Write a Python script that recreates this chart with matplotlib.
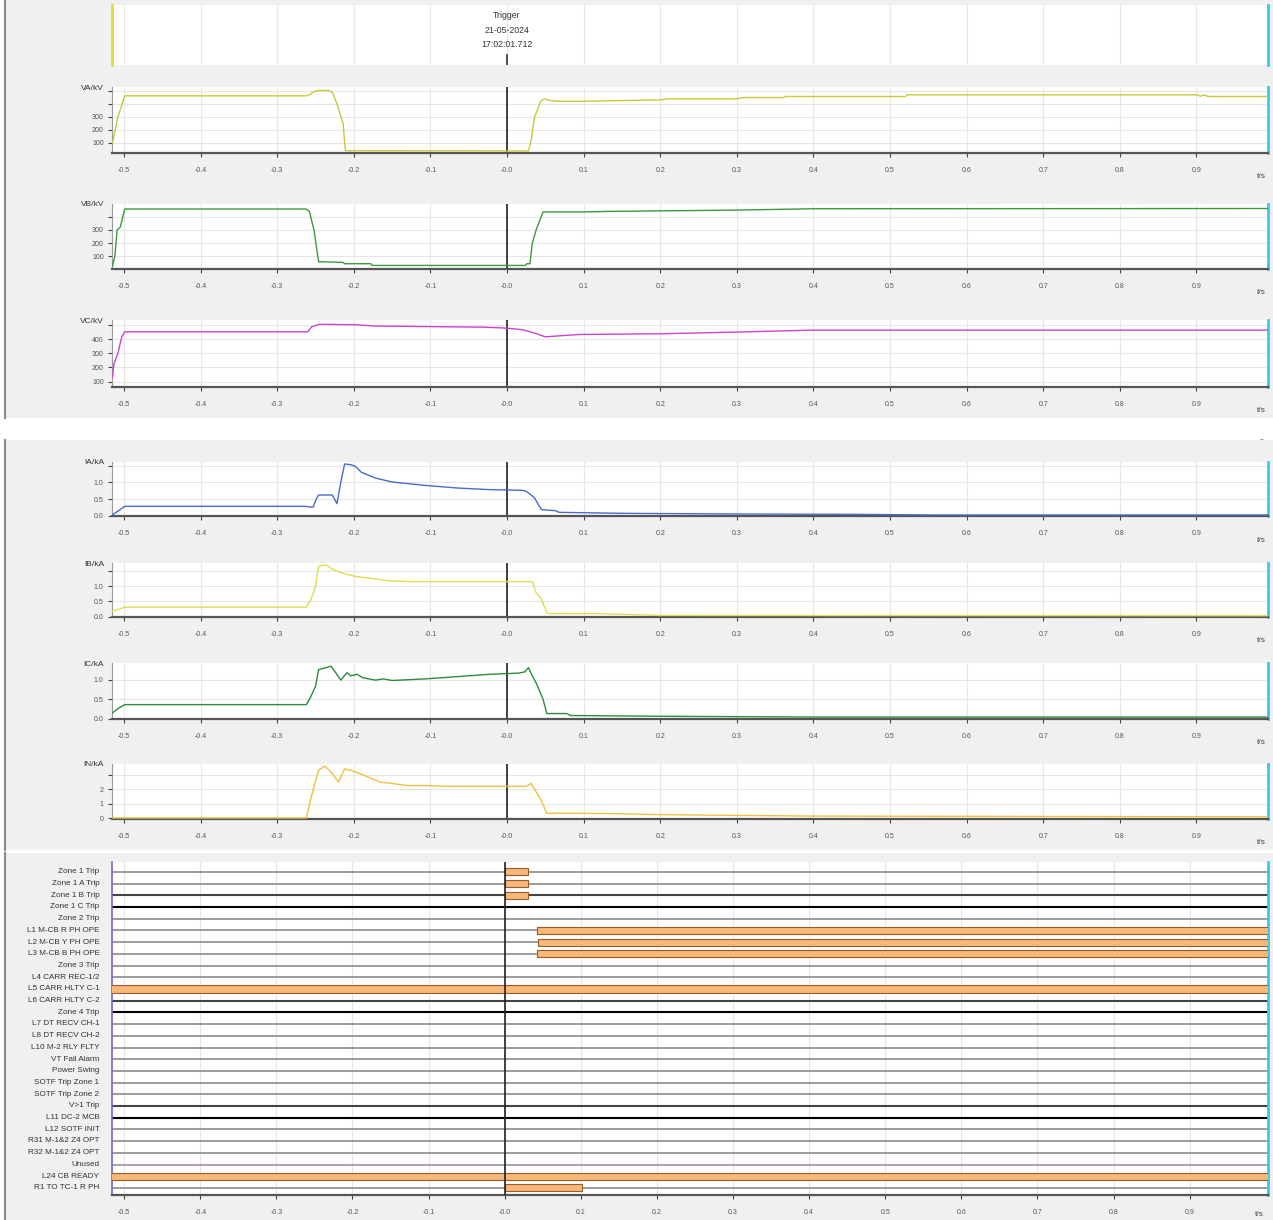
import numpy as np
import matplotlib
matplotlib.use('Agg')
import matplotlib.pyplot as plt
from matplotlib.patches import Rectangle
from matplotlib.lines import Line2D

plt.rcParams['font.family'] = ['Liberation Sans', 'DejaVu Sans']

W, H = 1273, 1220

# ---- analog channels (time in s) ----
va_t = [-0.515, -0.508, -0.499, -0.262, -0.258, -0.252, -0.245, -0.233, -0.228, -0.222, -0.214, -0.211,
        0.028, 0.031, 0.036, 0.044, 0.049, 0.053, 0.066, 0.1, 0.2, 0.21, 0.3, 0.31, 0.36, 0.365, 0.52,
        0.523, 0.9, 0.905, 0.91, 0.915, 0.92, 0.993]
va_v = [100, 300, 462, 462, 470, 495, 503, 503, 490, 400, 250, 40,
        38, 100, 300, 420, 440, 430, 420, 420, 431, 439, 439, 449, 449, 457, 457,
        470, 470, 460, 468, 458, 457, 457]

vb_t = [-0.515, -0.512, -0.509, -0.505, -0.499, -0.262, -0.258, -0.252, -0.246, -0.214, -0.212, -0.178,
        -0.176, 0.024, 0.026, 0.03, 0.033, 0.038, 0.047, 0.1, 0.13, 0.3, 0.4, 0.993]
vb_v = [30, 100, 300, 320, 458, 458, 440, 300, 60, 55, 45, 45,
        32, 32, 45, 45, 200, 300, 436, 436, 440, 450, 460, 462]

vc_t = [-0.515, -0.513, -0.508, -0.503, -0.499, -0.26, -0.255, -0.245, -0.2, -0.172, -0.03, 0.0, 0.02,
        0.036, 0.05, 0.07, 0.095, 0.2, 0.3, 0.4, 0.993]
vc_v = [133, 230, 300, 418, 454, 454, 490, 507, 505, 495, 487, 480, 469,
        445, 418, 426, 435, 440, 452, 466, 466]

ia_t = [-0.515, -0.507, -0.499, -0.262, -0.259, -0.253, -0.249, -0.246, -0.228, -0.222, -0.217, -0.212,
        -0.204, -0.198, -0.19, -0.172, -0.15, -0.108, -0.065, -0.022, 0.0, 0.02, 0.025, 0.031, 0.036,
        0.041, 0.045, 0.063, 0.068, 0.15, 0.3, 0.45, 0.56, 0.993]
ia_v = [0.03, 0.15, 0.28, 0.28, 0.26, 0.26, 0.5, 0.62, 0.62, 0.36, 1.0, 1.55,
        1.53, 1.48, 1.3, 1.13, 1.01, 0.91, 0.83, 0.78, 0.77, 0.76, 0.73, 0.63, 0.53,
        0.33, 0.18, 0.15, 0.1, 0.07, 0.05, 0.04, 0.02, 0.02]

ib_t = [-0.515, -0.507, -0.499, -0.262, -0.256, -0.25, -0.246, -0.236, -0.228, -0.215, -0.198, -0.182,
        -0.155, -0.129, 0.033, 0.038, 0.044, 0.052, 0.055, 0.12, 0.2, 0.993]
ib_v = [0.18, 0.24, 0.31, 0.31, 0.56, 1.0, 1.65, 1.7, 1.56, 1.43, 1.32, 1.27,
        1.18, 1.15, 1.15, 0.78, 0.62, 0.13, 0.1, 0.1, 0.04, 0.03]

ic_t = [-0.515, -0.507, -0.499, -0.262, -0.257, -0.25, -0.246, -0.236, -0.23, -0.225, -0.217, -0.209,
        -0.204, -0.196, -0.188, -0.172, -0.161, -0.15, -0.129, -0.108, -0.086, -0.065, -0.022, 0.015,
        0.023, 0.028, 0.033, 0.038, 0.047, 0.052, 0.078, 0.083, 0.2, 0.4, 0.993]
ic_v = [0.15, 0.27, 0.36, 0.36, 0.53, 0.83, 1.26, 1.31, 1.35, 1.22, 0.99, 1.18,
        1.1, 1.14, 1.05, 0.99, 1.02, 0.98, 1.0, 1.02, 1.05, 1.08, 1.14, 1.17,
        1.2, 1.31, 1.1, 0.92, 0.5, 0.13, 0.13, 0.08, 0.06, 0.04, 0.04]

in_t = [-0.515, -0.262, -0.257, -0.25, -0.246, -0.238, -0.23, -0.22, -0.212, -0.204, -0.193, -0.182,
        -0.166, -0.15, -0.129, -0.103, -0.076, 0.025, 0.031, 0.036, 0.044, 0.052, 0.13, 0.2, 0.4, 0.993]
in_v = [0.02, 0.02, 1.15, 2.6, 3.3, 3.6, 3.2, 2.5, 3.4, 3.3, 3.1, 2.85,
        2.5, 2.4, 2.25, 2.25, 2.2, 2.2, 2.4, 2.0, 1.3, 0.35, 0.33, 0.25, 0.15, 0.1]

x_ticks = [-0.5, -0.4, -0.3, -0.2, -0.1, 0.0, 0.1, 0.2, 0.3, 0.4, 0.5, 0.6, 0.7, 0.8, 0.9]
x_labels = ['-0.5', '-0.4', '-0.3', '-0.2', '-0.1', '-0.0', '0.1', '0.2', '0.3', '0.4',
            '0.5', '0.6', '0.7', '0.8', '0.9']

# ---- digital channels ----
dig_names = ['Zone 1 Trip', 'Zone 1 A Trip', 'Zone 1 B Trip', 'Zone 1 C Trip', 'Zone 2 Trip',
             'L1 M-CB R PH OPE', 'L2 M-CB Y PH OPE', 'L3 M-CB B PH OPE', 'Zone 3 Trip',
             'L4 CARR REC-1/2', 'L5 CARR HLTY C-1', 'L6 CARR HLTY C-2', 'Zone 4 Trip',
             'L7 DT RECV CH-1', 'L8 DT RECV CH-2', 'L10 M-2 RLY FLTY', 'VT Fail Alarm',
             'Power Swing', 'SOTF Trip Zone 1', 'SOTF Trip Zone 2', 'V>1 Trip', 'L11 DC-2 MCB',
             'L12 SOTF INIT', 'R31 M-1&2 Z4 OPT', 'R32 M-1&2 Z4 OPT', 'Unused', 'L24 CB READY',
             'R1 TO TC-1 R PH']
dig_line = ['g', 'g', 'd', 'k', 'g', 'g', 'g', 'g', 'g', 'g', 'g', 'd', 'k', 'g', 'g', 'g', 'g',
            'g', 'g', 'g', 'd', 'k', 'g', 'g', 'g', 'u', 'd', 'g']
bar_rows = [0, 1, 2, 5, 6, 7, 10, 26, 27]
bar_start = [0.0, 0.0, 0.0, 0.042, 0.044, 0.043, -0.52, -0.52, 0.0]
bar_end = [0.031, 0.031, 0.031, 1.01, 1.01, 1.01, 1.01, 1.01, 0.102]

fig = plt.figure(figsize=(W / 100, H / 100), dpi=100)
fig.patch.set_facecolor('white')


def box(l, t, r, b):
    return [l / W, 1 - b / H, (r - l) / W, (b - t) / H]


for top, bot in [(0, 418), (440, 850), (853, 1220)]:
    fig.add_artist(Rectangle((5 / W, 1 - bot / H), (W - 5) / W, (bot - top) / H,
                             transform=fig.transFigure, facecolor='#f0f0f0',
                             edgecolor='none', zorder=-10))
    fig.add_artist(Line2D([5 / W, 5 / W], [1 - bot / H, 1 - top / H],
                          transform=fig.transFigure, color='#8a8a8a', lw=1.5, zorder=-5))
fig.text(1262 / W, 1 - 440 / H, '--', fontsize=5, color='#666', ha='center', va='center')

XLIM = (-0.5157, 0.9935)


def style_axes(ax, xlim):
    ax.set_facecolor('white')
    ax.set_xlim(xlim)
    ax.set_xticks(x_ticks)
    ax.set_xticklabels(x_labels)
    ax.grid(True, color='#e6e6e6', lw=0.8)
    ax.set_axisbelow(True)
    ax.spines['top'].set_visible(False)
    ax.spines['right'].set_color('#3cc8e8')
    ax.spines['right'].set_linewidth(2)
    ax.spines['left'].set_color('#9a9a9a')
    ax.spines['left'].set_linewidth(0.8)
    ax.spines['bottom'].set_color('#555555')
    ax.spines['bottom'].set_linewidth(1.6)
    ax.tick_params(axis='x', direction='out', length=3, width=0.8, color='#444',
                   labelsize=5, labelcolor='#555', pad=7)
    ax.tick_params(axis='y', direction='out', length=3, width=0.8, color='#444',
                   labelsize=5, labelcolor='#555', pad=3)


# trigger strip
ax0 = fig.add_axes(box(112, 5, 1268, 65))
style_axes(ax0, XLIM)
ax0.set_ylim(0, 1)
ax0.grid(True, axis='x', color='#e6e6e6', lw=0.8)
ax0.grid(False, axis='y')
ax0.spines['bottom'].set_visible(False)
ax0.spines['left'].set_color('#e8d840')
ax0.spines['left'].set_linewidth(2)
ax0.tick_params(axis='both', length=0, labelbottom=False, labelleft=False)
ax0.plot([0, 0], [0, 0.17], color='#333', lw=1.2)
ax0.text(0, 0.58, 'Trigger\n21-05-2024\n17:02:01.712', ha='center', va='center',
         fontsize=6.3, color='#333', linespacing=1.75)


def analog(top, bot, t, v, color, ylim, yticks, ylabels, name):
    ax = fig.add_axes(box(112, top, 1268, bot))
    style_axes(ax, XLIM)
    ax.plot(t, v, color=color, lw=1.0, zorder=3)
    ax.axvline(0, color='#222', lw=1.2, zorder=2)
    ax.set_ylim(ylim)
    ax.set_yticks(yticks)
    ax.set_yticklabels(ylabels)
    fig.text(104 / W, 1 - (top + 1) / H, name, ha='right', va='center', fontsize=6, color='#333')
    fig.text(1261 / W, 1 - (bot + 24) / H, 't/s', ha='center', va='center', fontsize=6, color='#444')
    return ax


analog(87, 153, va_t, va_v, '#c8c83a', (22, 530), [100, 200, 300, 400, 500],
       ['100', '200', '300', '', ''], 'VA/kV')
analog(204, 269, vb_t, vb_v, '#3a9a3a', (5, 496), [100, 200, 300, 400],
       ['100', '200', '300', ''], 'VB/kV')
analog(320, 387, vc_t, vc_v, '#cc44cc', (61, 538), [100, 200, 300, 400, 500],
       ['100', '200', '300', '400', ''], 'VC/kV')
analog(462, 516, ia_t, ia_v, '#4a6bc8', (-0.01, 1.61), [0, 0.5, 1.0, 1.5],
       ['0.0', '0.5', '1.0', ''], 'IA/kA')
analog(563, 617, ib_t, ib_v, '#dede50', (-0.01, 1.76), [0, 0.5, 1.0, 1.5],
       ['0.0', '0.5', '1.0', ''], 'IB/kA')
analog(663, 719, ic_t, ic_v, '#2e8b3e', (-0.01, 1.43), [0, 0.5, 1.0],
       ['0.0', '0.5', '1.0'], 'IC/kA')
analog(764, 819, in_t, in_v, '#f2c040', (-0.05, 3.74), [0, 1, 2, 3],
       ['0', '1', '2', ''], 'IN/kA')

# digital channels
axd = fig.add_axes(box(112, 862, 1268, 1195))
style_axes(axd, (-0.516, 1.003))
axd.grid(True, axis='x', color='#e6e6e6', lw=0.8)
axd.grid(False, axis='y')
axd.spines['left'].set_color('#6a6ad0')
axd.spines['left'].set_linewidth(1.2)
n = len(dig_names)
rows = np.arange(n)
axd.set_ylim(n - 1 + 0.6, -0.85)
line_style = {'g': ('#8c8c8c', 1.2), 'd': ('#444444', 1.5), 'k': ('#000000', 1.5),
              'u': ('#a090a8', 1.2)}
for r, key in zip(rows, dig_line):
    c, lw = line_style[key]
    axd.axhline(r, color=c, lw=lw, zorder=2)
axd.barh(bar_rows, np.array(bar_end) - np.array(bar_start), left=bar_start, height=0.6,
         color='#f8b878', edgecolor='#9a5a2a', lw=0.8, zorder=3)
axd.axvline(0, color='#222', lw=1.2, zorder=4)
axd.set_yticks(rows - 0.1)
axd.set_yticklabels(dig_names)
axd.tick_params(axis='y', length=0, labelsize=5.9, labelcolor='#333', pad=9)
fig.text(1259 / W, 1 - 1215 / H, 't/s', ha='center', va='center', fontsize=6, color='#444')

fig.savefig('out.png', dpi=100, facecolor='white')
